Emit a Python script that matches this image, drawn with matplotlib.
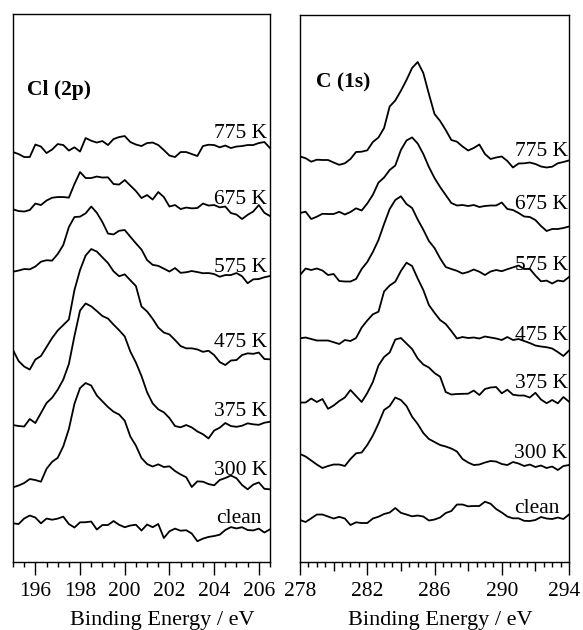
"""Stacked XPS spectra: Cl (2p) and C (1s) regions after annealing."""

import matplotlib

matplotlib.use("Agg")
import matplotlib.pyplot as plt
import matplotlib.transforms as mtransforms
import numpy as np
from matplotlib.ticker import MultipleLocator

plt.rcParams["font.family"] = ["Liberation Serif", "DejaVu Serif"]

LABELS = ["775 K", "675 K", "575 K", "475 K", "375 K", "300 K", "clean"]

# Cl (2p) region, intensity in arbitrary units above each trace's own baseline
CL_ENERGY = np.linspace(195.0, 206.5, 47)
CL_775 = [8, 6, 3, 3, 15.5, 13.5, 7, 10.5, 16, 15, 9.5, 12.7, 8.5, 22, 19.3,
          17.5, 19, 15, 21, 23, 24, 18, 15.5, 14, 17, 17.5, 15, 10, 4.5, 3, 8,
          8, 6, 4, 14, 15.3, 15, 12.7, 14.5, 12, 13.5, 14, 15, 15, 17, 18, 12]
CL_675 = [10.7, 9, 8.5, 10, 16.5, 15, 19.5, 22.3, 23, 23, 22.4, 36, 48, 42, 42,
          43.5, 42.5, 42.7, 36, 35.5, 40, 34.5, 29, 22, 25, 20.5, 28, 23, 13.5,
          15, 11, 12.5, 11.7, 12, 16.5, 14.5, 15, 12.7, 13.5, 7, 5.5, 1, 5.2,
          8.5, 15, 7.2, 4]
CL_575 = [13.3, 14.5, 16, 15.7, 18.5, 23.3, 24.8, 24.4, 31, 40, 58, 68, 68.4,
          71.7, 78.5, 72.3, 63, 51.5, 50.6, 54.3, 55, 48.3, 41.7, 35.5, 25,
          20.2, 19.2, 16.4, 13.5, 17, 12.2, 12.8, 14, 13, 11.8, 12, 11, 8.3, 10,
          10, 12, 8.8, 1.8, 5.7, 6, 7.8, 9]
CL_475 = [22, 11, 5.5, 2.5, 12.5, 16, 25, 34, 41.5, 47, 52.5, 82, 102, 116.5,
          123, 120.5, 114.7, 109, 100.7, 95.8, 97.7, 91.8, 86, 65.5, 60.6, 53.2,
          44.5, 39.5, 37.6, 32, 26, 23.7, 23.7, 22.6, 20.2, 21.3, 17, 10, 7,
          11.5, 12, 17, 18.7, 18.2, 19.5, 13, 12.7]
CL_375 = [15, 14, 13.5, 21, 17, 27, 37, 42.3, 50.3, 60.5, 76, 104, 129.5, 136.6,
          133.7, 129, 124, 121.5, 115.4, 109.8, 103.6, 88.5, 77.5, 64, 47.8,
          36.6, 30.7, 27.7, 22, 14, 12.7, 15, 12.6, 8.6, 5.8, 1.6, 9.5, 12.3,
          17, 14, 13.2, 14.3, 16.7, 15.7, 15.2, 17.3, 18.3]
CL_300 = [4.7, 6.5, 9, 13, 12, 10.3, 23.2, 30.2, 34.2, 45.7, 63, 88.3, 104, 109,
          106.5, 96.5, 90.7, 85, 80.3, 77.5, 71.3, 55.5, 46.4, 34, 28, 25.5,
          27.7, 25, 25.7, 21, 17.6, 14.8, 5, 10.7, 10.3, 8, 6.7, 12, 14, 16.5,
          13.8, 7, 2.7, 7.4, 9.6, 3.2, 2.7]
CL_CLEAN = [21.7, 21, 26.5, 29.5, 27.5, 21.7, 26.5, 25.3, 26.4, 28.4, 21, 17.5,
            22.7, 22.8, 23.5, 15.5, 20, 20, 24, 20.2, 17.8, 19.5, 20.3, 14.5,
            20.5, 17.8, 21, 7, 13.7, 16.4, 14.3, 14.8, 11.5, 3.8, 6.4, 8.1, 9,
            10.3, 15, 17.9, 16.6, 17.8, 15, 14.6, 16.4, 12.5, 15.7]

# C (1s) region
C_ENERGY = np.linspace(278.0, 294.0, 49)
C_775 = [13.5, 11.8, 8.3, 10.3, 10, 10, 7.5, 5.2, 6.7, 11, 18, 18.3, 19.7, 28,
         32.5, 42, 63.5, 69.5, 79.2, 90, 102, 108, 97, 76, 56, 49, 40, 30, 28.3,
         23.5, 19.5, 22, 25.5, 16, 11, 12.5, 13.5, 9, 2.5, 6.5, 6.7, 7.5, 6,
         3.5, 2.5, 3.3, 6.7, 8, 9.6]
C_675 = [22, 23.3, 16, 18.3, 21.2, 21, 21, 23.2, 20.5, 23, 26.7, 24.5, 31.5,
         40.2, 52.4, 57.5, 65, 69.5, 85, 94.5, 97.6, 91.5, 81, 68, 57, 48, 40,
         32, 29.5, 30, 29, 30, 28, 29, 29.5, 29.5, 32.5, 26, 25, 22, 18.5, 18,
         15, 9, 4, 6, 6, 7, 8.5]
C_575 = [15, 21.5, 20, 21.5, 19.5, 15, 16, 9, 8.5, 8.5, 11, 21, 28, 38, 50, 66,
         81, 90, 93.7, 86, 82, 70.5, 60.3, 49, 42, 31.7, 23, 21, 19.2, 16.5, 18,
         20.5, 18.3, 15, 18.5, 20, 18.8, 20.8, 22.6, 24.5, 21, 21.2, 14.5, 8.7,
         9.4, 6.5, 9.5, 8.6, 13]
C_475 = [21.7, 22.5, 21, 19.5, 19.5, 19.5, 17.8, 16, 20, 19, 22, 32.5, 39.5,
         45.7, 48.3, 68.5, 74.5, 78.3, 89, 97.3, 94, 81.5, 70, 55, 47.2, 40, 36,
         29, 21.5, 23, 22, 22.5, 21.5, 23.5, 22.5, 21.5, 20, 23, 20, 21, 19, 17,
         14.5, 13.5, 12.8, 11.5, 8, 4, 9.5]
C_375 = [9.5, 9.5, 13.5, 10, 13, 3.2, 6.5, 11, 14.5, 22, 16, 10, 19, 30, 46.5,
         55, 59.5, 72.5, 74, 68.5, 63, 53.5, 47.5, 44.5, 39, 35.3, 20, 17.5, 18,
         18.2, 18.3, 21.5, 17, 23, 24.5, 25, 18.7, 22.3, 17.3, 16.5, 16.5, 14.5,
         19.2, 12.5, 8.8, 12, 8.7, 15, 10.3]
C_300 = [21, 18.5, 14.5, 10.5, 7, 9, 10.5, 10.5, 9, 16, 21.7, 22.5, 30, 39.5,
         51.5, 65, 69, 77.5, 75, 69, 58.3, 51, 42, 36, 33, 30, 28.5, 26.5, 23.5,
         16, 12.5, 10, 10.5, 12.5, 14, 13.5, 11, 10, 13, 11.5, 9, 10.5, 8, 9.5,
         7, 8.5, 5, 9, 10]
C_CLEAN = [10, 8, 11.7, 15.5, 15.5, 13.5, 11.5, 13.2, 11.5, 5, 7.7, 7, 7, 11.5,
           13.3, 16, 17.5, 22, 17.2, 15.5, 13.7, 14.5, 13.5, 9.5, 10.5, 12.5,
           17, 19, 25.5, 25.5, 23.7, 24, 24, 28.3, 26.3, 21, 17.5, 13.5, 11.7,
           11.7, 9.2, 9, 10, 13, 11.5, 11, 12.5, 11, 15.5]

CL_TICKS = [196, 198, 200, 202, 204, 206]
C_TICKS = [278, 282, 286, 290, 294]

# Vertical stacking of the traces and placement of the temperature labels
CL_OFFSETS = [402, 342, 277, 190, 122, 70, 17]
C_OFFSETS = [392, 327, 272, 202, 150, 87, 32]
CL_LABEL_Y = [424, 358, 290, 215, 146, 87, 38.7]
C_LABEL_Y = [406, 353, 292, 222, 174, 104, 49]

FONT_SIZE = 15.5


def _plot_panel(ax, energy, spectra, offsets, label_y, label_x, clean_x,
                title, title_xy, xlim, ylim, ticks, xlabel_x):
    for counts, offset in zip(spectra, offsets):
        ax.plot(energy, np.asarray(counts) + offset, color="black", lw=1.3)

    for text, y in zip(LABELS, label_y):
        x = clean_x if text == "clean" else label_x
        ax.text(x, y, text, ha="right", va="baseline", fontsize=FONT_SIZE)

    ax.text(title_xy[0], title_xy[1], title, ha="left", va="baseline",
            fontsize=FONT_SIZE, fontweight="bold")

    ax.set_xlim(*xlim)
    ax.set_ylim(*ylim)
    ax.set_yticks([])
    ax.set_xticks(ticks)
    ax.xaxis.set_minor_locator(MultipleLocator(0.5))
    for spine in ax.spines.values():
        spine.set_linewidth(1.0)
    ax.tick_params(axis="x", which="major", direction="out", length=9.5,
                   width=1.0, labelsize=FONT_SIZE, pad=5)
    ax.tick_params(axis="x", which="minor", direction="out", length=3.6,
                   width=1.0)
    ax.text(xlabel_x, -0.115, "Binding Energy / eV", transform=ax.transAxes,
            ha="center", va="baseline", fontsize=16)


fig = plt.figure(figsize=(5.83, 6.30), dpi=100)
fig.set_facecolor("white")

ax_cl = fig.add_axes([0.0223, 0.1079, 0.4408, 0.8698])
ax_c = fig.add_axes([0.5146, 0.1079, 0.4614, 0.8683])

_plot_panel(
    ax_cl, CL_ENERGY,
    [CL_775, CL_675, CL_575, CL_475, CL_375, CL_300, CL_CLEAN],
    CL_OFFSETS, CL_LABEL_Y, 206.38, 206.12,
    "Cl (2p)", (195.62, 467), (195.0, 206.5), (0, 548), CL_TICKS, 0.582,
)
_plot_panel(
    ax_c, C_ENERGY,
    [C_775, C_675, C_575, C_475, C_375, C_300, C_CLEAN],
    C_OFFSETS, C_LABEL_Y, 293.92, 293.45,
    "C (1s)", (278.95, 474.5), (278.0, 294.0), (0, 547), C_TICKS, 0.520,
)

# Medium-length ticks at every 2 eV between the labelled C (1s) ticks
fig.canvas.draw()
minor_locs = ax_c.xaxis.get_minorticklocs()
for tick, loc in zip(ax_c.xaxis.get_minor_ticks(len(minor_locs)), minor_locs):
    if abs(loc / 2 - round(loc / 2)) < 1e-6:
        tick.tick1line.set_markersize(6.5)

# Nudge the last C (1s) tick label so it stays inside the figure
last_label = ax_c.xaxis.get_major_ticks()[-1].label1
last_label.set_transform(
    last_label.get_transform()
    + mtransforms.ScaledTranslation(-3.5 / 72, 0, fig.dpi_scale_trans)
)

fig.savefig("out.png", dpi=100, facecolor="white")
plt.close(fig)
